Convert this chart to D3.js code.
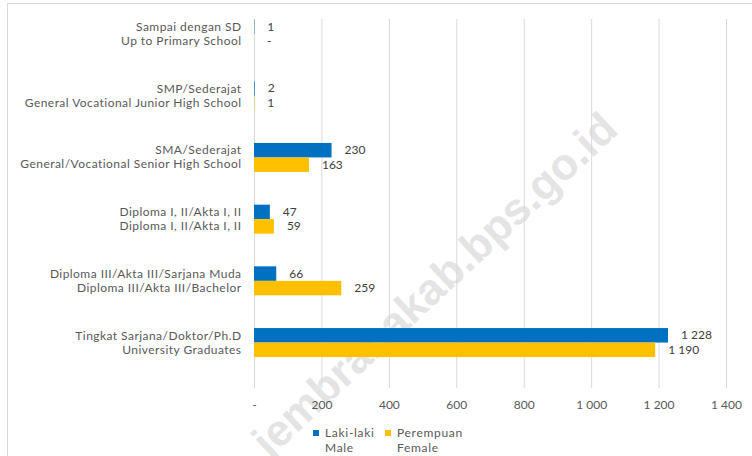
<!DOCTYPE html>
<html><head><meta charset="utf-8">
<script src="https://cdn.jsdelivr.net/npm/d3@7"></script>
<style>
html,body{margin:0;padding:0;background:#fff;}
svg{display:block;}
</style></head>
<body>
<svg id="chart" width="752" height="456"></svg>
<script>
const categoriesLine1 = ["Sampai dengan SD","SMP/Sederajat","SMA/Sederajat","Diploma I, II/Akta I, II","Diploma III/Akta III/Sarjana Muda","Tingkat Sarjana/Doktor/Ph.D"];
const categoriesLine2 = ["Up to Primary School","General Vocational Junior High School","General/Vocational Senior High School","Diploma I, II/Akta I, II","Diploma III/Akta III/Bachelor","University Graduates"];
const maleValues = [1, 2, 230, 47, 66, 1228];
const femaleValues = [0, 1, 163, 59, 259, 1190];
const seriesKeys = ["male","female"];
const seriesLine1 = ["Laki-laki","Perempuan"];
const seriesLine2 = ["Male","Female"];
const seriesColors = ["#0070C0","#FFC000"];
const xTicks = [0,200,400,600,800,1000,1200,1400];
const watermarkText = "jembranakab.bps.go.id";

const svg = d3.select("#chart");
const font = "Lato, 'Liberation Sans', sans-serif";
const loc = d3.formatLocale({decimal:",", thousands:" ", grouping:[3], currency:["",""]});
const fmtNum = v => v === 0 ? "-" : loc.format(",")(v);

// frame
svg.append("path").attr("d","M7.5,470 V3.5 H760").attr("fill","none").attr("stroke","#d9d9d9").attr("stroke-width",1);

// watermark
svg.append("text")
  .attr("transform","translate(620,132) rotate(-43)")
  .attr("text-anchor","end")
  .attr("font-family","'Liberation Sans', Arial, sans-serif")
  .attr("font-weight","bold")
  .attr("font-size",44)
  .attr("fill","#e4e4e4")
  .text(watermarkText);

const x = d3.scaleLinear().domain([0,1400]).range([254,726]);
const yTop = 19, yBottom = 388;
const y = d3.scaleBand().domain(d3.range(categoriesLine1.length)).range([3.2,373.4]).padding(0);
const ySub = d3.scaleBand().domain(seriesKeys).range([0,y.bandwidth()]).paddingInner(0).paddingOuter(1.128);

// grid + axis
const axis = d3.axisBottom(x).tickValues(xTicks).tickFormat(fmtNum).tickSize(-(yBottom-yTop)).tickPadding(12.5);
const gAx = svg.append("g").attr("transform",`translate(0,${yBottom})`).call(axis);
gAx.select(".domain").remove();
gAx.selectAll(".tick line").attr("stroke","#d9d9d9").attr("stroke-width",1);
gAx.selectAll(".tick text").attr("fill","#595959").attr("font-family",font).attr("font-size",12);

// bars
const data = categoriesLine1.map((c,i)=>({i, male:maleValues[i], female:femaleValues[i]}));
const groups = svg.append("g").selectAll("g").data(data).join("g")
  .attr("transform",d=>`translate(0,${y(d.i)})`);
groups.selectAll("rect").data(d=>seriesKeys.map((k,j)=>({k,j,v:d[k]}))).join("rect")
  .attr("x",x(0)).attr("y",d=>ySub(d.k)).attr("height",ySub.bandwidth())
  .attr("width",d=>x(d.v)-x(0)).attr("fill",d=>seriesColors[d.j]);
groups.selectAll("text.val").data(d=>seriesKeys.map((k,j)=>({k,j,v:d[k]}))).join("text")
  .attr("class","val")
  .attr("x",d=>x(d.v)+13).attr("y",d=>ySub(d.k)+ySub.bandwidth()/2+4)
  .attr("fill","#404040").attr("font-family",font).attr("font-size",12)
  .text(d=>fmtNum(d.v));

// category labels
const labG = svg.append("g").selectAll("g").data(data).join("g");
labG.append("text").attr("x",241.5).attr("y",d=>y(d.i)+y.bandwidth()/2-3)
  .attr("text-anchor","end").attr("fill","#595959").attr("font-family",font).attr("font-size",12)
  .attr("letter-spacing",0.45)
  .text(d=>categoriesLine1[d.i]);
labG.append("text").attr("x",241.5).attr("y",d=>y(d.i)+y.bandwidth()/2+11)
  .attr("text-anchor","end").attr("fill","#595959").attr("font-family",font).attr("font-size",12)
  .attr("letter-spacing",0.45)
  .text(d=>categoriesLine2[d.i]);

// legend
const legX = [313,385];
const leg = svg.append("g").selectAll("g").data(seriesKeys).join("g")
  .attr("transform",(d,i)=>`translate(${legX[i]},0)`);
leg.append("rect").attr("x",0).attr("y",430).attr("width",6).attr("height",6).attr("fill",(d,i)=>seriesColors[i]);
leg.append("text").attr("x",12).attr("y",437).attr("fill","#595959").attr("font-family",font).attr("font-size",12).attr("letter-spacing",0.7).text((d,i)=>seriesLine1[i]);
leg.append("text").attr("x",12).attr("y",452).attr("fill","#595959").attr("font-family",font).attr("font-size",12).attr("letter-spacing",0.7).text((d,i)=>seriesLine2[i]);
</script>
</body></html>
